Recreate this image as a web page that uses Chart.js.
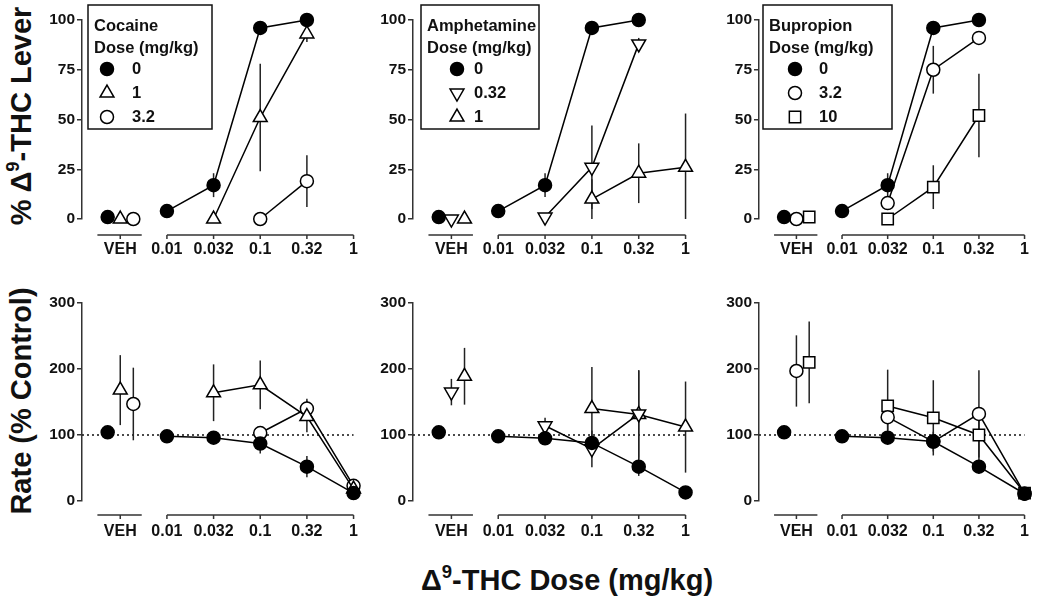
<!DOCTYPE html>
<html>
<head>
<meta charset="utf-8">
<script src="https://cdn.jsdelivr.net/npm/chart.js@4.4.1/dist/chart.umd.min.js"></script>
<style>
  body { margin: 0; background: #fff; }
  #wrap { position: relative; width: 1050px; height: 598px; overflow: hidden;
          font-family: "Liberation Sans", Arial, sans-serif; color: #111; }
  #wrap canvas { position: absolute; }
  .title { position: absolute; font-weight: bold; font-size: 29px; white-space: nowrap;
           transform: translate(-50%, -50%); line-height: 1; }
  .title.rot { transform: translate(-50%, -50%) rotate(-90deg); }
  .title sup { font-size: 0.64em; vertical-align: 0.62em; line-height: 0; }
</style>
</head>
<body>
<div id="wrap">
  <div class="title rot" style="left:21px; top:116px;">% &Delta;<sup>9</sup>-THC Lever</div>
  <div class="title rot" style="left:21px; top:401px;">Rate (% Control)</div>
  <div class="title" style="left:567px; top:580px;">&Delta;<sup>9</sup>-THC Dose (mg/kg)</div>
</div>
<script>

// x categories (VEH + THC doses, mg/kg)
const doseLabels = ["VEH", "0.01", "0.032", "0.1", "0.32", "1"];

const drugNames = ["Cocaine", "Amphetamine", "Bupropion"];
const cocaineDoses = ["0", "1", "3.2"];
const amphetamineDoses = ["0", "0.32", "1"];
const bupropionDoses = ["0", "3.2", "10"];

// % THC lever, one value per doseLabels entry
const cocLever0 = [1, 4, 17, 96, 100, null];
const cocLever1 = [0, null, 0, 51, 93, null];
const cocLever32 = [0, null, null, 0, 19, null];
const cocLever0Err = [0, 0, 6, 0, 0, 0];
const cocLever1Err = [0, 0, 0, 27, 4, 0];
const cocLever32Err = [0, 0, 0, 0, 13, 0];

const ampLever0 = [1, 4, 17, 96, 100, null];
const ampLever032 = [0, null, 1, 26, 88, null];
const ampLever1 = [0, null, null, 10, 23, 26];
const ampLever0Err = [0, 0, 6, 0, 0, 0];
const ampLever032Err = [0, 0, 0, 21, 3, 0];
const ampLever1Err = [0, 0, 0, 10, 15, 27];

const bupLever0 = [1, 4, 17, 96, 100, null];
const bupLever32 = [0, null, 8, 75, 91, null];
const bupLever10 = [1, null, 0, 16, 52, null];
const bupLever0Err = [0, 0, 6, 0, 0, 0];
const bupLever32Err = [0, 0, 0, 12, 3, 0];
const bupLever10Err = [0, 0, 0, 11, 21, 0];

// response rate (% control)
const cocRate0 = [104, 98, 96, 87, 52, 12];
const cocRate1 = [168, null, 164, 176, 128, 18];
const cocRate32 = [147, null, null, 103, 140, 23];
const cocRate0Err = [0, 0, 3, 15, 16, 0];
const cocRate1Err = [53, 0, 43, 37, 24, 0];
const cocRate32Err = [55, 0, 0, 0, 15, 0];

const ampRate0 = [104, 98, 95, 88, 52, 13];
const ampRate032 = [165, null, 114, 79, 132, null];
const ampRate1 = [189, null, null, 140, 131, 112];
const ampRate0Err = [0, 0, 0, 8, 14, 0];
const ampRate032Err = [20, 0, 12, 28, 66, 0];
const ampRate1Err = [43, 0, 0, 63, 67, 69];

const bupRate0 = [104, 98, 96, 90, 52, 11];
const bupRate32 = [197, null, 127, 90, 132, 11];
const bupRate10 = [210, null, 144, 126, 100, 12];
const bupRate0Err = [0, 0, 0, 15, 0, 0];
const bupRate32Err = [54, 0, 20, 0, 66, 0];
const bupRate10Err = [62, 0, 55, 57, 40, 0];


Chart.defaults.font.family = '"Liberation Sans", Arial, sans-serif';
Chart.defaults.font.weight = "bold";
Chart.defaults.color = "#111";

// marker styles
const filledCircle = { style: "circle", rot: 0, fill: "#000", r: 6.5 };
const openCircle = { style: "circle", rot: 0, fill: "#fff", r: 6.5 };
const upTriangle = { style: "triangle", rot: 0, fill: "#fff", r: 8 };
const downTriangle = { style: "triangle", rot: 180, fill: "#fff", r: 8 };
const openSquare = { style: "rect", rot: 0, fill: "#fff", r: 8 };

const vehOffsets = [-0.27, 0, 0.28];

// layout in page pixels
const axisX = [82, 413, 759];
const doseEnd = [367, 699, 1045];
const rows = [
    { top: 20, bottom: 219, canvasTop: 0, max: 100, step: 25, gap: 16 },
    { top: 303, bottom: 501, canvasTop: 272, max: 300, step: 100, gap: 14 }
];
const legendBox = [
    { dx: 6, w: 124, markX: 19, textX: 44 },
    { dx: 8, w: 118, markX: 36, textX: 53 },
    { dx: 4, w: 129, markX: 32, textX: 56 }
];

const panels = [
    { row: 0, col: 0, marks: [filledCircle, upTriangle, openCircle], doses: cocaineDoses,
      values: [cocLever0, cocLever1, cocLever32], errors: [cocLever0Err, cocLever1Err, cocLever32Err] },
    { row: 0, col: 1, marks: [filledCircle, downTriangle, upTriangle], doses: amphetamineDoses,
      values: [ampLever0, ampLever032, ampLever1], errors: [ampLever0Err, ampLever032Err, ampLever1Err] },
    { row: 0, col: 2, marks: [filledCircle, openCircle, openSquare], doses: bupropionDoses,
      values: [bupLever0, bupLever32, bupLever10], errors: [bupLever0Err, bupLever32Err, bupLever10Err] },
    { row: 1, col: 0, marks: [filledCircle, upTriangle, openCircle], doses: cocaineDoses,
      values: [cocRate0, cocRate1, cocRate32], errors: [cocRate0Err, cocRate1Err, cocRate32Err] },
    { row: 1, col: 1, marks: [filledCircle, downTriangle, upTriangle], doses: amphetamineDoses,
      values: [ampRate0, ampRate032, ampRate1], errors: [ampRate0Err, ampRate032Err, ampRate1Err] },
    { row: 1, col: 2, marks: [filledCircle, openCircle, openSquare], doses: bupropionDoses,
      values: [bupRate0, bupRate32, bupRate10], errors: [bupRate0Err, bupRate32Err, bupRate10Err] }
];


function figurePlugin(panel) {

    const last = doseLabels.length - 2;

    return {
        id: "figure" + panel.row + panel.col,

        beforeDatasetsDraw(chart) {
            const { ctx, chartArea } = chart;
            const x = chart.scales.x;
            const y = chart.scales.y;
            ctx.save();

            // dotted 100% line on the rate panels
            if (panel.row === 1) {
                const yy = y.getPixelForValue(100);
                ctx.setLineDash([2, 3]);
                ctx.lineWidth = 1.5;
                ctx.strokeStyle = "#111";
                ctx.beginPath();
                ctx.moveTo(chartArea.left, yy);
                ctx.lineTo(x.getPixelForValue(last), yy);
                ctx.stroke();
                ctx.setLineDash([]);
            }

            // error bars (SEM)
            ctx.strokeStyle = "#222";
            ctx.lineWidth = 1.5;
            panel.errors.forEach((errs, i) => {
                const meta = chart.getDatasetMeta(i);
                errs.forEach((e, j) => {
                    const v = panel.values[i][j];
                    if (v == null || !e) return;
                    const px = meta.data[j].x;
                    ctx.beginPath();
                    ctx.moveTo(px, y.getPixelForValue(v + e));
                    ctx.lineTo(px, y.getPixelForValue(Math.max(0, v - e)));
                    ctx.stroke();
                });
            });
            ctx.restore();
        },

        afterDraw(chart) {
            const { ctx, chartArea } = chart;
            const x = chart.scales.x;
            const ay = chartArea.bottom + rows[panel.row].gap;
            ctx.save();

            // broken x axis: VEH piece + dose piece
            ctx.strokeStyle = "#333";
            ctx.lineWidth = 1.5;
            ctx.beginPath();
            ctx.moveTo(x.getPixelForValue(-1.49), ay);
            ctx.lineTo(x.getPixelForValue(-0.54), ay);
            ctx.moveTo(x.getPixelForValue(0), ay);
            ctx.lineTo(x.getPixelForValue(last), ay);
            doseLabels.forEach((_, j) => {
                const px = x.getPixelForValue(j - 1);
                ctx.moveTo(px, ay);
                ctx.lineTo(px, ay + 4);
            });
            ctx.stroke();

            // legend box on the top row
            if (panel.row === 0) {
                const lb = legendBox[panel.col];
                const bx = chartArea.left + lb.dx;
                const by = 5;
                ctx.fillStyle = "#fff";
                ctx.fillRect(bx, by, lb.w, 124);
                ctx.strokeStyle = "#111";
                ctx.lineWidth = 1.5;
                ctx.strokeRect(bx, by, lb.w, 124);

                ctx.fillStyle = "#111";
                ctx.font = 'bold 16.5px "Liberation Sans", Arial, sans-serif';
                ctx.textBaseline = "middle";
                ctx.fillText(drugNames[panel.col], bx + 6, by + 21);
                ctx.fillText("Dose (mg/kg)", bx + 6, by + 43);

                panel.marks.forEach((m, i) => {
                    const ry = by + 64 + i * 24;
                    ctx.fillStyle = m.fill;
                    ctx.strokeStyle = "#000";
                    ctx.lineWidth = 1.5;
                    Chart.helpers.drawPoint(ctx, {
                        pointStyle: m.style, rotation: m.rot, radius: m.r, borderWidth: 1.5
                    }, bx + lb.markX, ry);
                    ctx.fillStyle = "#111";
                    ctx.fillText(panel.doses[i], bx + lb.textX, ry);
                });
            }
            ctx.restore();
        }
    };
}


function renderPanel(wrap, panel) {

    const r = rows[panel.row];
    const left = axisX[panel.col] - 40;
    const padRight = Math.min(12, 1050 - doseEnd[panel.col]);
    const width = doseEnd[panel.col] + padRight - left;
    const height = r.bottom + 40 - r.canvasTop;

    const canvas = document.createElement("canvas");
    canvas.width = width;
    canvas.height = height;
    canvas.style.left = left + "px";
    canvas.style.top = r.canvasTop + "px";
    canvas.style.width = width + "px";
    canvas.style.height = height + "px";
    wrap.appendChild(canvas);

    const datasets = panel.values.map((vals, i) => {
        const m = panel.marks[i];
        return {
            label: panel.doses[i],
            data: vals.map((v, j) => ({ x: j === 0 ? -1 + vehOffsets[i] : j - 1, y: v })),
            borderColor: "#000",
            borderWidth: 1.5,
            pointStyle: m.style,
            pointRotation: m.rot,
            pointRadius: m.r,
            pointBackgroundColor: m.fill,
            pointBorderColor: "#000",
            pointBorderWidth: 1.5,
            spanGaps: false,
            tension: 0,
            clip: false,
            segment: {
                borderColor: c => c.p0DataIndex === 0 ? "rgba(0,0,0,0)" : "#000"
            }
        };
    });

    new Chart(canvas, {
        type: "line",
        data: { datasets },
        options: {
            responsive: false,
            animation: false,
            events: [],
            layout: {
                autoPadding: false,
                padding: { left: 0, right: padRight, top: r.top - r.canvasTop, bottom: 0 }
            },
            plugins: {
                legend: { display: false },
                tooltip: { enabled: false }
            },
            scales: {
                x: {
                    type: "linear",
                    min: -1.82,
                    max: doseLabels.length - 2,
                    afterBuildTicks: s => { s.ticks = doseLabels.map((_, j) => ({ value: j - 1 })); },
                    afterFit: s => { s.height = 40; },
                    grid: { display: false, drawTicks: false },
                    border: { display: false },
                    ticks: {
                        autoSkip: false,
                        maxRotation: 0,
                        padding: 21,
                        color: "#111",
                        font: { size: 16, weight: "bold" },
                        callback: (v, j) => doseLabels[j]
                    }
                },
                y: {
                    type: "linear",
                    min: 0,
                    max: r.max,
                    afterFit: s => { s.width = 40; },
                    ticks: {
                        stepSize: r.step,
                        padding: 2,
                        color: "#111",
                        font: { size: 15.5, weight: "bold" }
                    },
                    grid: { drawOnChartArea: false, tickLength: 5, color: "#333", lineWidth: 1.5 },
                    border: { color: "#333", width: 1.5 }
                }
            }
        },
        plugins: [figurePlugin(panel)]
    });
}


const wrap = document.getElementById("wrap");
panels.forEach(p => renderPanel(wrap, p));

</script>
</body>
</html>
